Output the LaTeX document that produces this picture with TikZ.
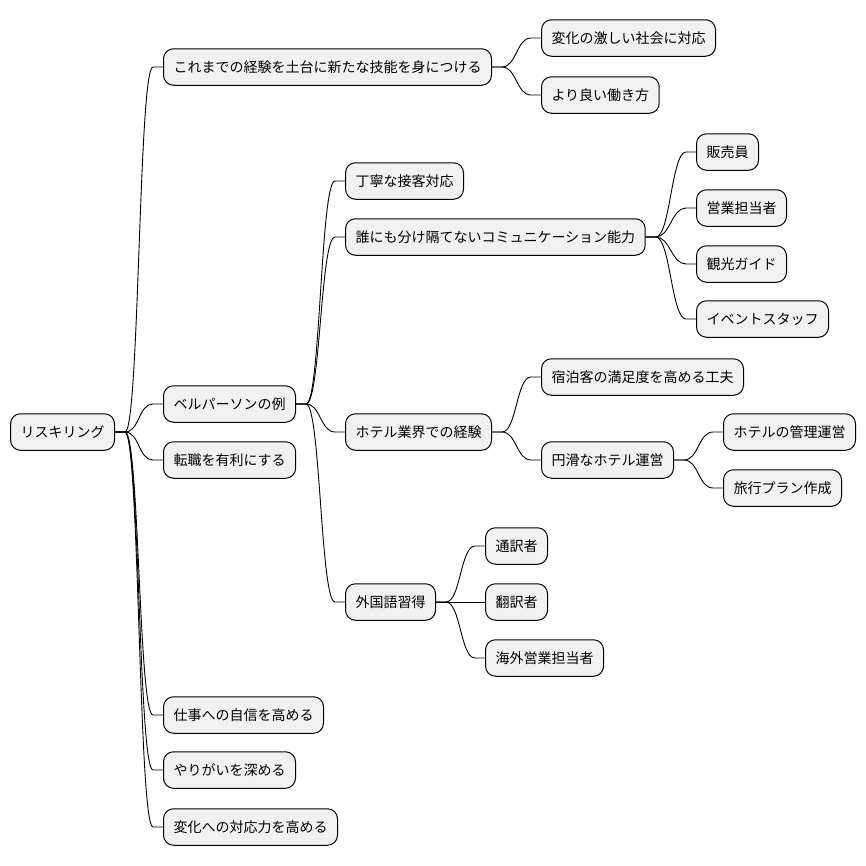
\documentclass[tikz,border=0pt]{standalone}
\usepackage{fontspec}
\setmainfont{Noto Sans CJK JP}
\definecolor{boxfill}{HTML}{F1F1F1}
\begin{document}
\begin{tikzpicture}[x=1pt,y=-1pt,
  box/.style={draw=black, fill=boxfill, rounded corners=10pt, minimum height=36.5pt,
    inner xsep=10pt, inner ysep=0pt, font=\fontsize{14pt}{16pt}\selectfont, anchor=west, line width=1pt},
  conn/.style={draw=black, line width=0.9pt}]
\useasboundingbox (0,0) rectangle (866,865);
% root
\node[box] (root) at (10,432) {リスキリング};
% level 1
\node[box] (k1) at (163,67) {これまでの経験を土台に新たな技能を身につける};
\node[box] (k2) at (163,404) {ベルパーソンの例};
\node[box] (k3) at (163,460) {転職を有利にする};
\node[box] (k4) at (163,715) {仕事への自信を高める};
\node[box] (k5) at (163,770) {やりがいを深める};
\node[box] (k6) at (163,827) {変化への対応力を高める};
% children of k1
\node[box] (k1a) at (541,38) {変化の激しい社会に対応};
\node[box] (k1b) at (541,95) {より良い働き方};
% children of k2
\node[box] (b1) at (345,181) {丁寧な接客対応};
\node[box] (b2) at (345,237) {誰にも分け隔てないコミュニケーション能力};
\node[box] (b3) at (345,432) {ホテル業界での経験};
\node[box] (b4) at (345,602) {外国語習得};
% children of b2
\node[box] (c1) at (696,152) {販売員};
\node[box] (c2) at (696,208) {営業担当者};
\node[box] (c3) at (696,264) {観光ガイド};
\node[box] (c4) at (696,319) {イベントスタッフ};
% children of b3
\node[box] (h1) at (541,377) {宿泊客の満足度を高める工夫};
\node[box] (h2) at (541,460) {円滑なホテル運営};
\node[box] (h2a) at (723,432) {ホテルの管理運営};
\node[box] (h2b) at (723,488) {旅行プラン作成};
% children of b4
\node[box] (f1) at (485,546) {通訳者};
\node[box] (f2) at (485,602) {翻訳者};
\node[box] (f3) at (485,658) {海外営業担当者};
% connectors
\foreach \a/\b in {root/k1,root/k2,root/k3,root/k4,root/k5,root/k6,
  k1/k1a,k1/k1b,k2/b1,k2/b2,k2/b3,k2/b4,b2/c1,b2/c2,b2/c3,b2/c4,
  b3/h1,b3/h2,h2/h2a,h2/h2b,b4/f1,b4/f2,b4/f3}
  \draw[conn] (\a.east) -- ([xshift=10]\a.east)
    .. controls ([xshift=24.5]\a.east) and ([xshift=-24.5]\b.west) .. ([xshift=-10]\b.west)
    -- (\b.west);
\end{tikzpicture}
\end{document}
